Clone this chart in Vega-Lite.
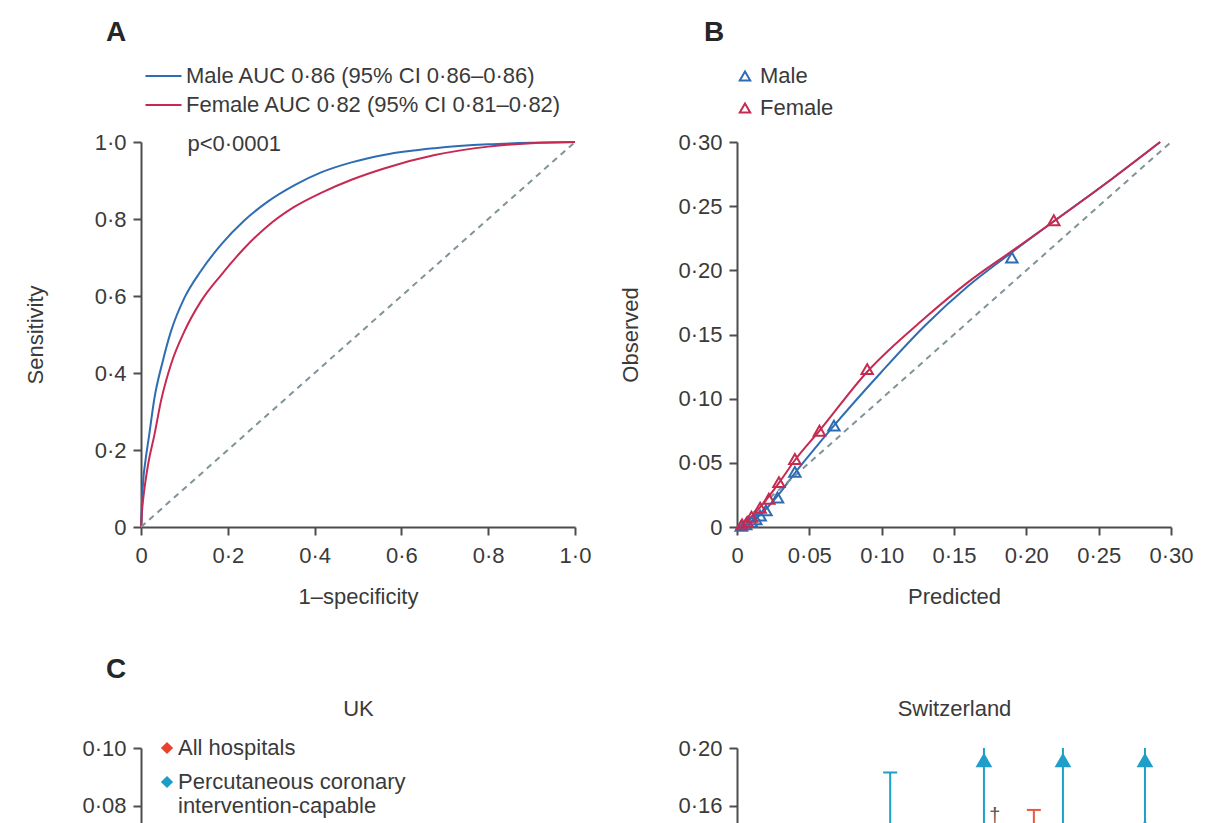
{
  "$schema": "https://vega.github.io/schema/vega-lite/v6.json",
  "background": "white",
  "padding": {"left": 24, "top": 19, "right": 10, "bottom": 0},
  "columns": 2,
  "spacing": {"row": 49, "column": 28},
  "resolve": {
    "scale": {"color": "independent", "shape": "independent", "x": "independent", "y": "independent"},
    "legend": {"color": "independent", "shape": "independent"},
    "axis": {"x": "independent", "y": "independent"}
  },
  "config": {
    "font": "Liberation Sans",
    "view": {"stroke": null},
    "axis": {
      "domainColor": "#4d4d4d", "domainWidth": 2, "tickColor": "#4d4d4d", "tickWidth": 2, "tickSize": 8,
      "labelFontSize": 22, "labelColor": "#3a3a3a", "labelFlush": false, "labelOverlap": false,
      "titleFontSize": 22, "titleFontWeight": "normal", "titleColor": "#3a3a3a", "grid": false
    },
    "axisX": {"labelPadding": 10},
    "axisY": {"labelPadding": 7},
    "legend": {"labelFontSize": 22, "labelColor": "#3a3a3a", "padding": 0, "labelLimit": 700},
    "title": {"fontSize": 28, "fontWeight": "bold", "color": "#262626", "anchor": "start", "frame": "group"}
  },
  "datasets": {
    "roc": [
      {"sex": "Male", "fpr": 0, "tpr": 0},
      {"sex": "Male", "fpr": 0.002, "tpr": 0.06},
      {"sex": "Male", "fpr": 0.005, "tpr": 0.12},
      {"sex": "Male", "fpr": 0.01, "tpr": 0.17},
      {"sex": "Male", "fpr": 0.019, "tpr": 0.24},
      {"sex": "Male", "fpr": 0.031, "tpr": 0.335},
      {"sex": "Male", "fpr": 0.05, "tpr": 0.43},
      {"sex": "Male", "fpr": 0.069, "tpr": 0.508},
      {"sex": "Male", "fpr": 0.1, "tpr": 0.595},
      {"sex": "Male", "fpr": 0.138, "tpr": 0.665},
      {"sex": "Male", "fpr": 0.185, "tpr": 0.734},
      {"sex": "Male", "fpr": 0.238, "tpr": 0.796},
      {"sex": "Male", "fpr": 0.292, "tpr": 0.845},
      {"sex": "Male", "fpr": 0.354, "tpr": 0.888},
      {"sex": "Male", "fpr": 0.415, "tpr": 0.921},
      {"sex": "Male", "fpr": 0.485, "tpr": 0.947},
      {"sex": "Male", "fpr": 0.562, "tpr": 0.967},
      {"sex": "Male", "fpr": 0.677, "tpr": 0.984},
      {"sex": "Male", "fpr": 0.8, "tpr": 0.994},
      {"sex": "Male", "fpr": 0.9, "tpr": 0.998},
      {"sex": "Male", "fpr": 1, "tpr": 1},
      {"sex": "Female", "fpr": 0, "tpr": 0},
      {"sex": "Female", "fpr": 0.003, "tpr": 0.05},
      {"sex": "Female", "fpr": 0.008, "tpr": 0.1},
      {"sex": "Female", "fpr": 0.016, "tpr": 0.16},
      {"sex": "Female", "fpr": 0.031, "tpr": 0.24},
      {"sex": "Female", "fpr": 0.046, "tpr": 0.327},
      {"sex": "Female", "fpr": 0.069, "tpr": 0.422},
      {"sex": "Female", "fpr": 0.1, "tpr": 0.508},
      {"sex": "Female", "fpr": 0.138, "tpr": 0.586},
      {"sex": "Female", "fpr": 0.185, "tpr": 0.655},
      {"sex": "Female", "fpr": 0.238, "tpr": 0.724},
      {"sex": "Female", "fpr": 0.292, "tpr": 0.782},
      {"sex": "Female", "fpr": 0.354, "tpr": 0.832},
      {"sex": "Female", "fpr": 0.415, "tpr": 0.868},
      {"sex": "Female", "fpr": 0.485, "tpr": 0.902},
      {"sex": "Female", "fpr": 0.562, "tpr": 0.932},
      {"sex": "Female", "fpr": 0.677, "tpr": 0.966},
      {"sex": "Female", "fpr": 0.8, "tpr": 0.988},
      {"sex": "Female", "fpr": 0.9, "tpr": 0.997},
      {"sex": "Female", "fpr": 1, "tpr": 1}
    ],
    "calPts": [
      {"sex": "Male", "pred": 0.003, "obs": 0.001},
      {"sex": "Male", "pred": 0.006, "obs": 0.002},
      {"sex": "Male", "pred": 0.01, "obs": 0.004},
      {"sex": "Male", "pred": 0.013, "obs": 0.006},
      {"sex": "Male", "pred": 0.016, "obs": 0.009},
      {"sex": "Male", "pred": 0.02, "obs": 0.013},
      {"sex": "Male", "pred": 0.028, "obs": 0.023},
      {"sex": "Male", "pred": 0.04, "obs": 0.043},
      {"sex": "Male", "pred": 0.067, "obs": 0.079},
      {"sex": "Male", "pred": 0.19, "obs": 0.21},
      {"sex": "Female", "pred": 0.0035, "obs": 0.002},
      {"sex": "Female", "pred": 0.007, "obs": 0.004},
      {"sex": "Female", "pred": 0.01, "obs": 0.008},
      {"sex": "Female", "pred": 0.016, "obs": 0.015},
      {"sex": "Female", "pred": 0.022, "obs": 0.022},
      {"sex": "Female", "pred": 0.029, "obs": 0.035},
      {"sex": "Female", "pred": 0.04, "obs": 0.053},
      {"sex": "Female", "pred": 0.057, "obs": 0.075},
      {"sex": "Female", "pred": 0.09, "obs": 0.123},
      {"sex": "Female", "pred": 0.219, "obs": 0.239}
    ],
    "calLine": [
      {"sex": "Male", "pred": 0, "obs": 0},
      {"sex": "Male", "pred": 0.01, "obs": 0.004},
      {"sex": "Male", "pred": 0.02, "obs": 0.014},
      {"sex": "Male", "pred": 0.03, "obs": 0.027},
      {"sex": "Male", "pred": 0.04, "obs": 0.042},
      {"sex": "Male", "pred": 0.05, "obs": 0.056},
      {"sex": "Male", "pred": 0.067, "obs": 0.079},
      {"sex": "Male", "pred": 0.1, "obs": 0.121},
      {"sex": "Male", "pred": 0.13, "obs": 0.157},
      {"sex": "Male", "pred": 0.16, "obs": 0.188},
      {"sex": "Male", "pred": 0.19, "obs": 0.214},
      {"sex": "Male", "pred": 0.22, "obs": 0.239},
      {"sex": "Male", "pred": 0.26, "obs": 0.272},
      {"sex": "Male", "pred": 0.2925, "obs": 0.3},
      {"sex": "Female", "pred": 0, "obs": 0},
      {"sex": "Female", "pred": 0.01, "obs": 0.008},
      {"sex": "Female", "pred": 0.02, "obs": 0.021},
      {"sex": "Female", "pred": 0.03, "obs": 0.036},
      {"sex": "Female", "pred": 0.04, "obs": 0.052},
      {"sex": "Female", "pred": 0.057, "obs": 0.075},
      {"sex": "Female", "pred": 0.09, "obs": 0.121},
      {"sex": "Female", "pred": 0.13, "obs": 0.163},
      {"sex": "Female", "pred": 0.16, "obs": 0.191},
      {"sex": "Female", "pred": 0.19, "obs": 0.215},
      {"sex": "Female", "pred": 0.22, "obs": 0.239},
      {"sex": "Female", "pred": 0.26, "obs": 0.272},
      {"sex": "Female", "pred": 0.2925, "obs": 0.3}
    ],
    "swiss": [
      {"pos": 0.353, "type": "Percutaneous coronary intervention-capable", "est": 0.12, "lo": 0.07, "hi": 0.183, "trunc": false},
      {"pos": 0.569, "type": "Percutaneous coronary intervention-capable", "est": 0.12, "lo": 0.06, "hi": 0.2, "trunc": true},
      {"pos": 0.684, "type": "All hospitals", "est": 0.12, "lo": 0.09, "hi": 0.157, "trunc": false},
      {"pos": 0.751, "type": "Percutaneous coronary intervention-capable", "est": 0.13, "lo": 0.07, "hi": 0.2, "trunc": true},
      {"pos": 0.94, "type": "Percutaneous coronary intervention-capable", "est": 0.145, "lo": 0.08, "hi": 0.2, "trunc": true}
    ]
  },
  "concat": [
    {
      "width": 434,
      "height": 385,
      "title": {"text": "A", "dx": -35, "offset": 18},
      "layer": [
        {
          "data": {"name": "roc"},
          "mark": {"type": "line", "strokeWidth": 2, "interpolate": "monotone"},
          "encoding": {
            "x": {"field": "fpr", "type": "quantitative", "scale": {"domain": [0, 1], "nice": false},
              "axis": {"values": [0, 0.2, 0.4, 0.6, 0.8, 1], "labelExpr": "datum.value == 0 ? '0' : replace(format(datum.value, '.1f'), '.', '·')", "title": "1–specificity", "titlePadding": 20}},
            "y": {"field": "tpr", "type": "quantitative", "scale": {"domain": [0, 1], "nice": false},
              "axis": {"values": [0, 0.2, 0.4, 0.6, 0.8, 1], "labelExpr": "datum.value == 0 ? '0' : replace(format(datum.value, '.1f'), '.', '·')", "title": "Sensitivity", "titlePadding": 47}},
            "color": {"field": "sex", "type": "nominal", "scale": {"domain": ["Male", "Female"], "range": ["#2f6db3", "#c62a52"]},
              "legend": {"orient": "none", "legendX": 3, "legendY": -77, "title": null, "symbolType": "stroke", "symbolSize": 1300, "symbolStrokeWidth": 2, "clipHeight": 22, "labelOffset": 3, "rowPadding": 7,
                "labelExpr": "datum.label == 'Male' ? 'Male AUC 0·86 (95% CI 0·86–0·86)' : 'Female AUC 0·82 (95% CI 0·81–0·82)'"}}
          }
        },
        {
          "data": {"values": [{}]},
          "mark": {"type": "rule", "strokeDash": [6, 5], "strokeWidth": 2, "color": "#7f9398"},
          "encoding": {"x": {"datum": 0, "type": "quantitative"}, "y": {"datum": 0, "type": "quantitative"}, "x2": {"datum": 1}, "y2": {"datum": 1}}
        },
        {
          "data": {"values": [{}]},
          "mark": {"type": "text", "align": "left", "baseline": "middle", "fontSize": 22, "color": "#3a3a3a", "text": "p<0·0001"},
          "encoding": {"x": {"datum": 0.107, "type": "quantitative"}, "y": {"datum": 0.995, "type": "quantitative"}}
        }
      ]
    },
    {
      "width": 434,
      "height": 385,
      "title": {"text": "B", "dx": -33, "offset": 18},
      "layer": [
        {
          "data": {"name": "calLine"},
          "mark": {"type": "line", "strokeWidth": 2, "interpolate": "monotone"},
          "encoding": {
            "x": {"field": "pred", "type": "quantitative", "scale": {"domain": [0, 0.3], "nice": false},
              "axis": {"values": [0, 0.05, 0.1, 0.15, 0.2, 0.25, 0.3], "labelExpr": "datum.value == 0 ? '0' : replace(format(datum.value, '.2f'), '.', '·')", "title": "Predicted", "titlePadding": 20}},
            "y": {"field": "obs", "type": "quantitative", "scale": {"domain": [0, 0.3], "nice": false},
              "axis": {"values": [0, 0.05, 0.1, 0.15, 0.2, 0.25, 0.3], "labelExpr": "datum.value == 0 ? '0' : replace(format(datum.value, '.2f'), '.', '·')", "title": "Observed", "titlePadding": 35}},
            "color": {"field": "sex", "type": "nominal", "scale": {"domain": ["Male", "Female"], "range": ["#2f6db3", "#c62a52"]},
              "legend": {"orient": "none", "legendX": -3, "legendY": -77, "title": null, "symbolType": "triangle-up", "symbolSize": 110, "symbolStrokeWidth": 2, "symbolFillColor": "white", "labelOffset": 4, "rowPadding": 10}}
          }
        },
        {
          "data": {"values": [{}]},
          "mark": {"type": "rule", "strokeDash": [6, 5], "strokeWidth": 2, "color": "#7f9398"},
          "encoding": {"x": {"datum": 0, "type": "quantitative"}, "y": {"datum": 0, "type": "quantitative"}, "x2": {"datum": 0.3}, "y2": {"datum": 0.3}}
        },
        {
          "data": {"name": "calPts"},
          "mark": {"type": "point", "shape": "triangle-up", "filled": false, "size": 130, "strokeWidth": 2, "opacity": 1},
          "encoding": {
            "x": {"field": "pred", "type": "quantitative"},
            "y": {"field": "obs", "type": "quantitative"},
            "color": {"field": "sex", "type": "nominal", "scale": {"domain": ["Male", "Female"], "range": ["#2f6db3", "#c62a52"]},
              "legend": {"orient": "none", "legendX": -3, "legendY": -77, "title": null, "symbolType": "triangle-up", "symbolSize": 110, "symbolStrokeWidth": 2, "symbolFillColor": "white", "labelOffset": 4, "rowPadding": 10}}
          }
        }
      ]
    },
    {
      "width": 434,
      "height": 288,
      "title": {"text": "C", "dx": -35, "offset": 13},
      "data": {"values": []},
      "mark": {"type": "point", "shape": "diamond", "filled": true, "size": 150, "opacity": 1},
      "encoding": {
        "x": {"field": "pos", "type": "quantitative", "scale": {"domain": [0, 1]},
          "axis": {"orient": "top", "title": "UK", "labels": false, "ticks": false, "domain": false, "titlePadding": 28, "minExtent": 0}},
        "y": {"field": "est", "type": "quantitative", "scale": {"domain": [0, 0.1], "nice": false},
          "axis": {"values": [0, 0.02, 0.04, 0.06, 0.08, 0.1], "labelExpr": "datum.value == 0 ? '0' : replace(format(datum.value, '.2f'), '.', '·')", "title": null}},
        "color": {"field": "type", "type": "nominal", "scale": {"domain": ["All hospitals", "Percutaneous coronary intervention-capable"], "range": ["#e8412c", "#1a9dc6"]},
          "legend": {"orient": "none", "legendX": 15, "legendY": -11, "title": null, "symbolType": "diamond", "symbolSize": 150, "labelOffset": 0, "rowPadding": 12,
            "labelExpr": "datum.label == 'All hospitals' ? 'All hospitals' : ['Percutaneous coronary', 'intervention-capable']"}}
      }
    },
    {
      "width": 434,
      "height": 288,
      "data": {"name": "swiss"},
      "layer": [
        {
          "mark": {"type": "rule", "strokeWidth": 2},
          "encoding": {
            "x": {"field": "pos", "type": "quantitative", "scale": {"domain": [0, 1]},
              "axis": {"orient": "top", "title": "Switzerland", "labels": false, "ticks": false, "domain": false, "titlePadding": 28, "minExtent": 0}},
            "y": {"field": "lo", "type": "quantitative", "scale": {"domain": [0, 0.2], "nice": false},
              "axis": {"values": [0, 0.04, 0.08, 0.12, 0.16, 0.2], "labelExpr": "datum.value == 0 ? '0' : replace(format(datum.value, '.2f'), '.', '·')", "title": null}},
            "y2": {"field": "hi"},
            "color": {"field": "type", "type": "nominal", "scale": {"domain": ["All hospitals", "Percutaneous coronary intervention-capable"], "range": ["#e9573f", "#1e9ec8"]}, "legend": null}
          }
        },
        {
          "transform": [{"filter": "!datum.trunc"}],
          "mark": {"type": "tick", "orient": "horizontal", "size": 14, "thickness": 2, "opacity": 1},
          "encoding": {
            "x": {"field": "pos", "type": "quantitative"},
            "y": {"field": "hi", "type": "quantitative"},
            "color": {"field": "type", "type": "nominal", "legend": null}
          }
        },
        {
          "transform": [{"filter": "datum.trunc"}],
          "mark": {"type": "point", "shape": "triangle-up", "filled": true, "size": 280, "yOffset": 12, "opacity": 1},
          "encoding": {
            "x": {"field": "pos", "type": "quantitative"},
            "y": {"field": "hi", "type": "quantitative"},
            "color": {"field": "type", "type": "nominal", "legend": null}
          }
        },
        {
          "mark": {"type": "point", "shape": "diamond", "filled": true, "size": 150, "opacity": 1},
          "encoding": {
            "x": {"field": "pos", "type": "quantitative"},
            "y": {"field": "est", "type": "quantitative"},
            "color": {"field": "type", "type": "nominal", "legend": null}
          }
        },
        {
          "data": {"values": [{}]},
          "mark": {"type": "text", "text": "†", "fontSize": 20, "color": "#555555"},
          "encoding": {"x": {"datum": 0.594, "type": "quantitative"}, "y": {"datum": 0.153, "type": "quantitative"}}
        }
      ]
    }
  ]
}
